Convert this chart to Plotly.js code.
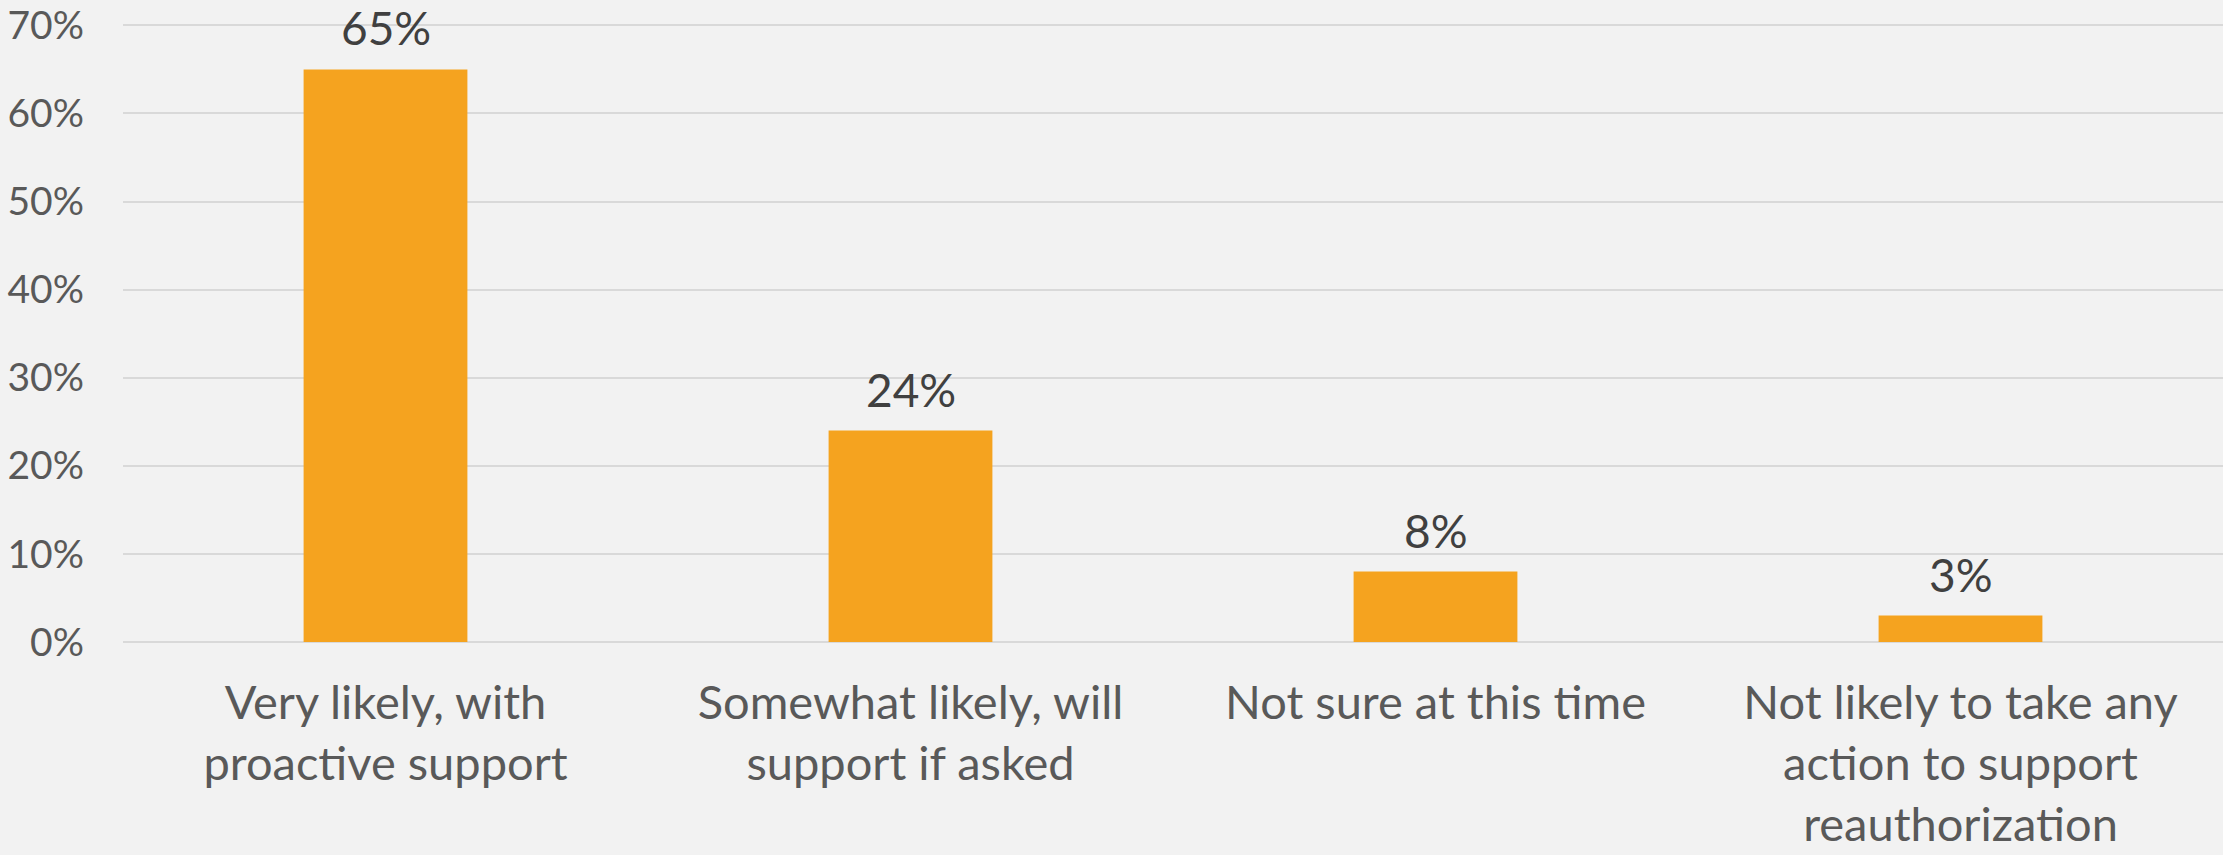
<!DOCTYPE html>
<html>
<head>
<meta charset="utf-8">
<script src="https://cdn.plot.ly/plotly-3.0.1.min.js"></script>
<style>
  html, body { margin: 0; padding: 0; background: #F2F2F2; }
  #chart { width: 2223px; height: 855px; }
</style>
</head>
<body>
<div id="chart"></div>
<script>
const categories = [
  "Very likely, with<br>proactive support",
  "Somewhat likely, will<br>support if asked",
  "Not sure at this time",
  "Not likely to take any<br>action to support<br>reauthorization"
];
const values = [0.65, 0.24, 0.08, 0.03];
const valueLabels = ["65%", "24%", "8%", "3%"];
const yTickVals = [0, 0.1, 0.2, 0.3, 0.4, 0.5, 0.6, 0.7];
const yTickText = ["0%", "10%", "20%", "30%", "40%", "50%", "60%", "70%"];

const trace = {
  type: "bar",
  x: categories,
  y: values,
  marker: { color: "#F5A31F" },
  hoverinfo: "none"
};

const annotations = categories.map((c, i) => ({
  x: c,
  y: values[i],
  xref: "x",
  yref: "y",
  text: valueLabels[i],
  showarrow: false,
  yanchor: "bottom",
  yshift: 12,
  font: { family: "Lato, sans-serif", size: 46, color: "#404040" }
}));

const layout = {
  width: 2223,
  height: 855,
  paper_bgcolor: "#F2F2F2",
  plot_bgcolor: "#F2F2F2",
  margin: { l: 123, r: 0, t: 21, b: 213, pad: 0 },
  bargap: 0.688,
  showlegend: false,
  font: { family: "Lato, sans-serif", color: "#595959" },
  xaxis: {
    type: "category",
    tickfont: { family: "Lato, sans-serif", size: 47, color: "#595959" },
    showgrid: false,
    showline: false,
    ticks: "",
    ticklabelstandoff: 29
  },
  yaxis: {
    range: [0, 0.705],
    tickvals: yTickVals,
    ticktext: yTickText,
    tickfont: { family: "Lato, sans-serif", size: 39, color: "#595959" },
    showgrid: true,
    gridcolor: "#D9D9D9",
    gridwidth: 2,
    zeroline: true,
    zerolinecolor: "#D9D9D9",
    zerolinewidth: 2,
    showline: false,
    ticks: "",
    ticklabelstandoff: 38
  },
  annotations: annotations
};

Plotly.newPlot("chart", [trace], layout, { displayModeBar: false, staticPlot: true });
</script>
</body>
</html>
